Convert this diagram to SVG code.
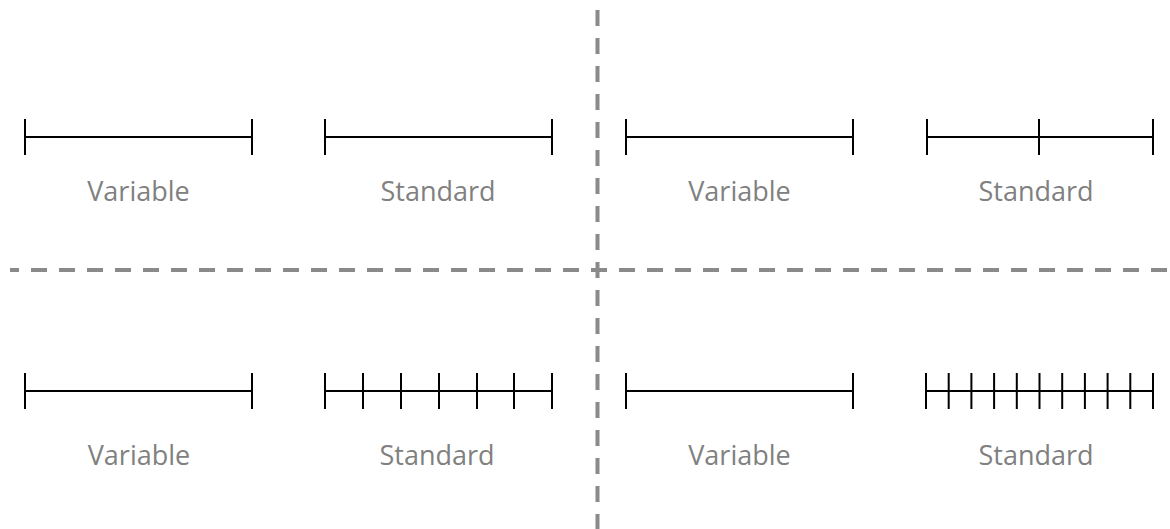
<svg xmlns="http://www.w3.org/2000/svg" width="1170" height="529" viewBox="0 0 1170 529">
<style>
.seg{stroke:#000;stroke-width:2;fill:none}
.lbl{font-family:"Open Sans","Liberation Sans",sans-serif;font-size:27px;fill:#808080;text-anchor:middle}
.div{stroke:#8a8a8a;stroke-width:4;stroke-dasharray:16 12;fill:none}
</style>
<rect width="1170" height="529" fill="#fff"/>
<g id="dividers">
<line class="div" x1="597.5" y1="10" x2="597.5" y2="529"/>
<line class="div" x1="10" y1="270" x2="1167" y2="270" stroke-dashoffset="7"/>
</g>
<g id="tl-variable">
<path class="seg" d="M25 137H252M25 119V155M252 119V155"/>
<text class="lbl" x="138.5" y="201">Variable</text>
</g>
<g id="tl-standard">
<path class="seg" d="M325 137H552M325 119V155M552 119V155"/>
<text class="lbl" x="438" y="201">Standard</text>
</g>
<g id="tr-variable">
<path class="seg" d="M626 137H853M626 119V155M853 119V155"/>
<text class="lbl" x="739.5" y="201">Variable</text>
</g>
<g id="tr-standard">
<path class="seg" d="M927 137H1153M927 119V155M1039 119V155M1153 119V155"/>
<text class="lbl" x="1036" y="201">Standard</text>
</g>
<g id="bl-variable">
<path class="seg" d="M25 391H252M25 373V409M252 373V409"/>
<text class="lbl" x="139" y="465">Variable</text>
</g>
<g id="bl-standard">
<path class="seg" d="M325 391H552M325 373V409M363 373V409M401 373V409M439 373V409M477 373V409M514 373V409M552 373V409"/>
<text class="lbl" x="437" y="465">Standard</text>
</g>
<g id="br-variable">
<path class="seg" d="M626 391H853M626 373V409M853 373V409"/>
<text class="lbl" x="739.5" y="465">Variable</text>
</g>
<g id="br-standard">
<path class="seg" d="M926 391H1153M926 373V409M948.7 373V409M971.4 373V409M994.1 373V409M1016.8 373V409M1039.5 373V409M1062.2 373V409M1084.9 373V409M1107.6 373V409M1130.3 373V409M1153 373V409"/>
<text class="lbl" x="1036" y="465">Standard</text>
</g>
</svg>
